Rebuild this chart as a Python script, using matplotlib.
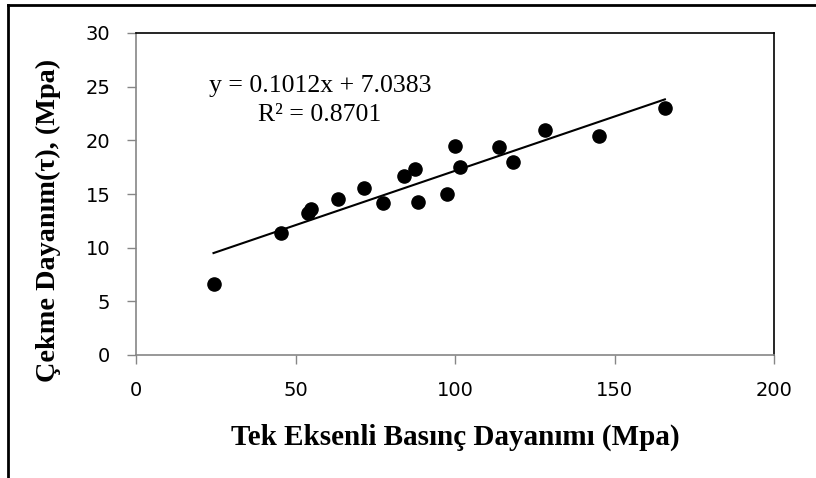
import numpy as np
import matplotlib.pyplot as plt
from matplotlib.lines import Line2D

# uniaxial compressive strength (MPa) vs tensile strength (MPa)
ucs = [24.3, 45.3, 53.8, 55.0, 63.3, 71.6, 77.3, 83.9, 87.5, 88.5,
       97.5, 100.0, 101.6, 113.9, 118.3, 128.2, 145.1, 165.8]
tensile = [6.6, 11.4, 13.2, 13.6, 14.5, 15.6, 14.2, 16.7, 17.3, 14.3,
           15.0, 19.5, 17.5, 19.4, 18.0, 21.0, 20.4, 23.0]

slope = 0.1012
intercept = 7.0383
r2 = 0.8701

x_ticks = [0, 50, 100, 150, 200]
y_ticks = [0, 5, 10, 15, 20, 25, 30]

fig = plt.figure(figsize=(8.16, 4.78), dpi=100)
ax = fig.add_axes([136 / 816, 1 - 355 / 478, (774 - 136) / 816, (355 - 33) / 478])

ax.scatter(ucs, tensile, s=90, color='black', zorder=3)

xs = np.array([min(ucs), max(ucs)])
ax.plot(xs, slope * xs + intercept, color='black', lw=1.5)

ax.text(57.7, 23.7, f"y = {slope}x + {intercept}\nR² = {r2}", family='Liberation Serif',
        fontsize=18.5, ha='center', va='center', linespacing=1.45)

ax.set_xlim(0, 200)
ax.set_ylim(0, 30)
ax.set_xticks(x_ticks)
ax.set_yticks(y_ticks)
for lab in ax.get_xticklabels() + ax.get_yticklabels():
    lab.set_family('DejaVu Sans')
    lab.set_fontsize(14)
ax.tick_params(direction='out', length=6.5, width=1, color='#868686')
ax.tick_params(axis='y', pad=12)
ax.tick_params(axis='x', pad=12)

for side in ['left', 'bottom']:
    ax.spines[side].set_color('#868686')
    ax.spines[side].set_linewidth(1.2)
for side in ['top', 'right']:
    ax.spines[side].set_color('black')
    ax.spines[side].set_linewidth(1.2)

ax.set_xlabel('Tek Eksenli Basınç Dayanımı (Mpa)', family='Liberation Serif',
              fontweight='bold', fontsize=21, labelpad=17)
ax.set_ylabel('Çekme Dayanım(τ), (Mpa)', family='Liberation Serif',
              fontweight='bold', fontsize=20.3)
ax.yaxis.set_label_coords(-0.117, 0.418)

# outer frame lines
fig.add_artist(Line2D([8 / 816, 8 / 816], [0, 1 - 5 / 478], color='black', lw=2))
fig.add_artist(Line2D([8 / 816, 1], [1 - 5 / 478, 1 - 5 / 478], color='black', lw=2))

fig.savefig('out.png', dpi=100)
